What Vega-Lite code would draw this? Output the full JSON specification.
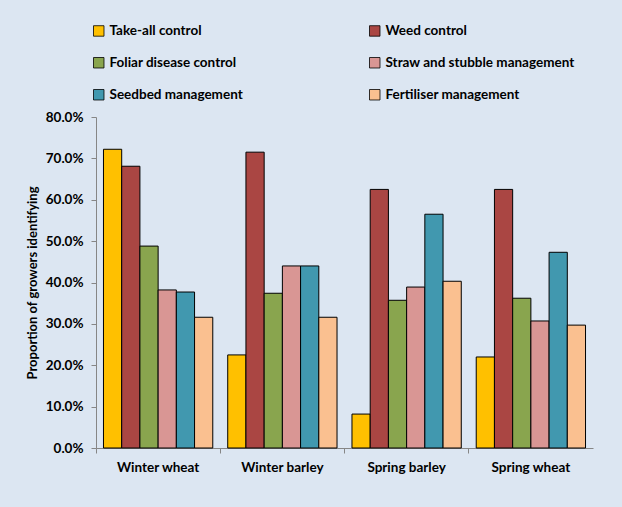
{
  "$schema": "https://vega.github.io/schema/vega-lite/v6.json",
  "width": 497,
  "height": 331,
  "autosize": {"type": "none"},
  "padding": {"left": 96, "top": 117, "right": 29, "bottom": 59},
  "background": "#DCE6F2",
  "config": {
    "view": {"stroke": null},
    "font": "Lato",
    "axis": {"labelFont": "Lato", "titleFont": "Lato", "labelColor": "#000000", "titleColor": "#000000", "labelFontWeight": "bold", "titleFontWeight": "bold", "domainColor": "#868686", "tickColor": "#868686", "grid": false},
    "legend": {"labelFont": "Lato", "labelFontWeight": "bold", "labelColor": "#000000"}
  },
  "data": {
    "values": [
      {"crop": "Winter wheat", "factor": "Take-all control", "value": 0.722},
      {"crop": "Winter wheat", "factor": "Weed control", "value": 0.681},
      {"crop": "Winter wheat", "factor": "Foliar disease control", "value": 0.488},
      {"crop": "Winter wheat", "factor": "Straw and stubble management", "value": 0.382},
      {"crop": "Winter wheat", "factor": "Seedbed management", "value": 0.377},
      {"crop": "Winter wheat", "factor": "Fertiliser management", "value": 0.316},
      {"crop": "Winter barley", "factor": "Take-all control", "value": 0.225},
      {"crop": "Winter barley", "factor": "Weed control", "value": 0.715},
      {"crop": "Winter barley", "factor": "Foliar disease control", "value": 0.374},
      {"crop": "Winter barley", "factor": "Straw and stubble management", "value": 0.44},
      {"crop": "Winter barley", "factor": "Seedbed management", "value": 0.44},
      {"crop": "Winter barley", "factor": "Fertiliser management", "value": 0.316},
      {"crop": "Spring barley", "factor": "Take-all control", "value": 0.082},
      {"crop": "Spring barley", "factor": "Weed control", "value": 0.625},
      {"crop": "Spring barley", "factor": "Foliar disease control", "value": 0.357},
      {"crop": "Spring barley", "factor": "Straw and stubble management", "value": 0.389},
      {"crop": "Spring barley", "factor": "Seedbed management", "value": 0.565},
      {"crop": "Spring barley", "factor": "Fertiliser management", "value": 0.403},
      {"crop": "Spring wheat", "factor": "Take-all control", "value": 0.22},
      {"crop": "Spring wheat", "factor": "Weed control", "value": 0.625},
      {"crop": "Spring wheat", "factor": "Foliar disease control", "value": 0.362},
      {"crop": "Spring wheat", "factor": "Straw and stubble management", "value": 0.307},
      {"crop": "Spring wheat", "factor": "Seedbed management", "value": 0.473},
      {"crop": "Spring wheat", "factor": "Fertiliser management", "value": 0.297}
    ]
  },
  "mark": {"type": "bar", "stroke": "#000000", "strokeWidth": 1},
  "encoding": {
    "x": {
      "field": "crop",
      "type": "nominal",
      "sort": ["Winter wheat", "Winter barley", "Spring barley", "Spring wheat"],
      "scale": {"paddingInner": 0, "paddingOuter": 0},
      "axis": {"title": null, "labelAngle": 0, "labelFontSize": 13.5, "labelPadding": 7, "tickSize": 5, "bandPosition": 0}
    },
    "xOffset": {
      "field": "factor",
      "type": "nominal",
      "sort": ["Take-all control", "Weed control", "Foliar disease control", "Straw and stubble management", "Seedbed management", "Fertiliser management"],
      "scale": {"paddingInner": 0, "paddingOuter": 0.41}
    },
    "y": {
      "field": "value",
      "type": "quantitative",
      "scale": {"domain": [0, 0.8], "nice": false},
      "axis": {"title": "Proportion of growers identifying", "format": ".1%", "values": [0, 0.1, 0.2, 0.3, 0.4, 0.5, 0.6, 0.7, 0.8], "labelFontSize": 13.5, "titleFontSize": 13, "tickSize": 5, "labelPadding": 8, "titlePadding": 6}
    },
    "color": {
      "field": "factor",
      "type": "nominal",
      "scale": {
        "domain": ["Take-all control", "Weed control", "Foliar disease control", "Straw and stubble management", "Seedbed management", "Fertiliser management"],
        "range": ["#FFC000", "#AA4643", "#89A54E", "#D99694", "#4198AF", "#FAC090"]
      },
      "legend": {
        "title": null,
        "orient": "none",
        "legendX": -4,
        "legendY": -93,
        "columns": 2,
        "columnPadding": 124,
        "rowPadding": 17,
        "values": ["Take-all control", "Foliar disease control", "Seedbed management", "Weed control", "Straw and stubble management", "Fertiliser management"],
        "symbolType": "square",
        "symbolSize": 110,
        "symbolStrokeColor": "#000000",
        "symbolStrokeWidth": 0.8,
        "symbolOpacity": 1,
        "labelFontSize": 13.5,
        "labelOffset": 4,
        "labelLimit": 300
      }
    }
  }
}
